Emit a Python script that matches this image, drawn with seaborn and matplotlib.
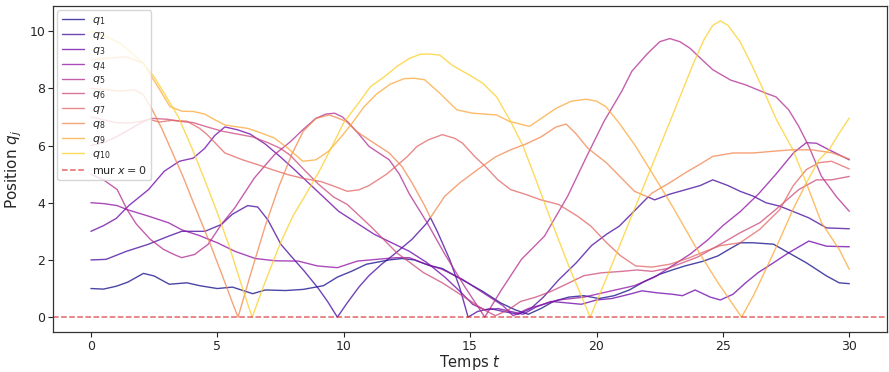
import matplotlib
matplotlib.use("Agg")
import matplotlib.pyplot as plt
import numpy as np
import pandas as pd
import seaborn as sns

# ---- data: (t, q_j) points of each trajectory ----
q1_pts = [(0,1.0),(0.5,0.98),(1.0,1.08),(1.45,1.22),(2.08,1.53),(2.5,1.44),(3.1,1.15),(3.8,1.2),(4.3,1.1),(5.0,1.0),(5.6,1.05),(6.4,0.82),(6.9,0.95),(7.7,0.93),(8.4,0.97),(9.2,1.1),(9.75,1.4),(10.3,1.6),(10.9,1.85),(11.8,2.0),(12.3,2.05),(12.8,2.0),(13.4,1.8),(13.9,1.7),(14.7,1.3),(15.5,0.9),(16.2,0.5),(16.8,0.25),(17.3,0.1),(17.8,0.3),(18.3,0.55),(18.9,0.7),(19.5,0.75),(20.1,0.65),(20.7,0.75),(21.3,0.95),(21.9,1.25),(22.5,1.5),(23.0,1.65),(23.5,1.79),(24.2,1.95),(24.8,2.14),(25.3,2.4),(25.7,2.6),(26.2,2.6),(27.0,2.55),(27.6,2.25),(28.3,1.9),(29.1,1.44),(29.6,1.2),(30,1.17)]
q2_pts = [(0,2.0),(0.6,2.02),(1.4,2.3),(2.28,2.55),(3.07,2.83),(3.59,3.0),(4.51,3.0),(5.16,3.24),(5.6,3.6),(6.2,3.9),(6.6,3.85),(7.0,3.4),(7.52,2.54),(8.0,2.05),(8.44,1.61),(9.0,1.0),(9.36,0.55),(9.75,0.0),(10.14,0.5),(10.6,1.05),(11.0,1.45),(11.5,1.85),(12.0,2.2),(12.7,2.72),(13.3,3.3),(13.43,3.48),(13.7,3.0),(14.2,2.0),(14.6,1.0),(14.92,0.0),(15.3,0.2),(15.8,0.3),(16.3,0.2),(16.9,0.1),(17.4,0.3),(17.9,0.7),(18.5,1.3),(19.2,1.9),(19.8,2.5),(20.4,2.9),(20.9,3.18),(21.55,3.76),(22.04,4.2),(22.3,4.1),(22.9,4.3),(23.5,4.45),(24.1,4.6),(24.6,4.8),(25.2,4.6),(25.68,4.4),(26.2,4.23),(26.7,4.0),(27.25,3.88),(27.9,3.65),(28.4,3.47),(29.1,3.12),(30,3.09)]
q3_pts = [(0,3.0),(0.5,3.2),(1.0,3.45),(1.5,3.9),(2.28,4.46),(2.9,5.1),(3.5,5.45),(4.05,5.56),(4.5,5.9),(4.9,6.35),(5.3,6.65),(5.8,6.55),(6.3,6.4),(6.9,6.05),(7.5,5.6),(8.0,5.2),(8.6,4.7),(9.2,4.2),(9.8,3.7),(10.5,3.3),(11.2,2.9),(11.9,2.6),(12.6,2.3),(13.3,1.9),(14.0,1.4),(14.6,0.9),(15.1,0.45),(15.6,0.25),(16.1,0.3),(16.6,0.2),(17.1,0.1),(17.6,0.35),(18.2,0.55),(18.8,0.5),(19.4,0.45),(20.0,0.6),(20.6,0.65),(21.3,0.8),(21.8,0.92),(22.4,0.85),(23.0,0.8),(23.4,0.75),(23.9,0.95),(24.5,0.7),(24.9,0.6),(25.4,0.8),(25.9,1.2),(26.4,1.56),(27.0,1.9),(27.6,2.25),(28.4,2.66),(29.1,2.48),(30,2.46)]
q4_pts = [(0,4.0),(0.5,3.97),(1.04,3.9),(1.43,3.76),(2.28,3.53),(3.07,3.3),(3.6,3.05),(4.3,2.85),(5.0,2.6),(5.7,2.3),(6.5,2.05),(7.3,1.97),(8.2,1.96),(8.96,1.79),(9.75,1.73),(10.54,1.96),(11.3,2.02),(12.1,2.08),(12.6,2.08),(13.1,1.9),(13.9,1.67),(14.7,1.32),(15.5,0.86),(16.3,0.4),(16.7,0.05),(17.3,0.3),(18.5,0.6),(19.5,0.7),(20.5,0.9),(21.5,1.1),(22.3,1.4),(23.0,1.8),(23.7,2.2),(24.4,2.7),(25.0,3.2),(25.7,3.7),(26.4,4.3),(27.1,5.0),(27.8,5.75),(28.3,6.1),(28.7,6.08),(29.2,5.85),(30,5.5)]
q5_pts = [(0,5.0),(0.5,4.8),(1.04,4.46),(1.43,3.76),(1.8,3.25),(2.35,2.72),(2.87,2.37),(3.26,2.2),(3.59,2.08),(4.1,2.19),(4.64,2.55),(5.16,3.24),(5.69,3.82),(6.47,4.87),(7.26,5.68),(7.9,6.14),(8.38,6.55),(8.9,6.95),(9.3,7.1),(9.64,7.13),(9.95,7.0),(10.2,6.79),(10.6,6.4),(11.0,5.97),(11.8,5.5),(12.2,5.0),(12.6,4.3),(13.3,3.3),(14.0,2.2),(14.8,1.05),(15.58,0.0),(16.2,0.9),(17.03,2.02),(17.94,2.83),(18.86,4.23),(19.6,5.6),(20.3,6.85),(21.0,7.9),(21.4,8.6),(22.0,9.2),(22.5,9.63),(22.9,9.74),(23.3,9.63),(23.7,9.4),(24.1,9.06),(24.6,8.65),(25.3,8.29),(25.9,8.12),(26.7,7.83),(27.1,7.7),(27.6,7.25),(28.0,6.67),(28.4,5.97),(28.9,4.92),(29.5,4.2),(30,3.7)]
q6_pts = [(0,6.0),(0.5,6.1),(1.0,6.3),(1.5,6.55),(2.0,6.8),(2.4,6.95),(3.0,6.92),(3.5,6.85),(4.05,6.8),(4.6,6.65),(5.2,6.5),(5.8,6.4),(6.4,6.3),(7.0,6.1),(7.5,5.9),(7.9,5.65),(8.38,5.2),(9.0,4.65),(9.6,4.2),(10.14,3.94),(11.06,3.18),(12.1,2.25),(13.15,1.56),(13.9,1.2),(14.9,0.63),(15.5,0.28),(16.0,0.05),(16.5,0.25),(17.0,0.55),(17.6,0.7),(18.2,0.9),(18.8,1.15),(19.5,1.45),(20.2,1.55),(21.0,1.6),(21.6,1.65),(22.2,1.6),(22.8,1.7),(23.4,1.9),(24.0,2.1),(24.6,2.4),(25.1,2.65),(25.68,2.95),(26.46,3.3),(27.25,3.88),(28.0,4.46),(28.7,4.8),(29.3,4.8),(30,4.92)]
q7_pts = [(0,7.0),(0.5,6.9),(1.0,6.8),(1.5,6.78),(2.0,6.85),(2.3,6.92),(2.7,6.82),(3.2,6.88),(3.8,6.85),(4.3,6.6),(4.6,6.38),(5.3,5.74),(6.0,5.5),(6.6,5.33),(7.2,5.15),(7.8,4.98),(8.4,4.85),(9.1,4.74),(9.7,4.55),(10.14,4.4),(10.6,4.45),(11.0,4.6),(11.7,5.0),(12.5,5.6),(12.9,5.97),(13.35,6.2),(13.9,6.38),(14.4,6.25),(14.7,6.08),(15.2,5.6),(15.6,5.27),(16.1,4.8),(16.6,4.46),(17.2,4.29),(17.8,4.1),(18.5,3.94),(19.25,3.53),(19.78,3.18),(20.4,2.6),(20.96,2.14),(21.55,1.79),(22.2,1.75),(22.9,1.85),(23.6,2.05),(24.3,2.3),(24.9,2.5),(25.68,2.6),(26.46,3.07),(27.25,3.76),(27.77,4.58),(28.3,5.16),(28.8,5.4),(29.3,5.45),(30,5.18)]
q8_pts = [(0,8.0),(0.6,7.95),(1.2,7.9),(1.7,7.95),(2.05,7.8),(2.4,7.3),(2.8,6.6),(3.2,5.8),(3.65,4.9),(4.1,3.9),(4.7,2.6),(5.2,1.45),(5.6,0.5),(5.82,0.0),(6.35,1.6),(6.9,3.2),(7.45,4.6),(7.95,5.7),(8.4,6.5),(8.9,6.95),(9.43,7.07),(9.8,6.95),(10.1,6.84),(10.5,6.5),(11.0,6.2),(11.8,5.74),(12.3,5.27),(12.7,4.7),(13.2,3.9),(13.43,3.48),(14.0,4.23),(14.6,4.7),(15.3,5.16),(16.0,5.6),(16.6,5.85),(17.2,6.05),(17.8,6.3),(18.4,6.65),(18.8,6.75),(19.2,6.4),(19.65,5.91),(20.4,5.39),(21.0,4.85),(21.5,4.4),(22.04,4.2),(22.2,4.34),(22.9,4.7),(23.5,5.04),(24.1,5.35),(24.6,5.62),(25.4,5.74),(26.2,5.74),(27.0,5.8),(27.7,5.85),(28.5,5.85),(29.3,5.75),(30,5.53)]
q9_pts = [(0,9.0),(0.6,9.05),(1.43,9.1),(2.08,8.87),(2.48,8.3),(3.13,7.36),(3.6,7.2),(4.05,7.19),(4.5,7.1),(4.9,6.9),(5.3,6.72),(5.8,6.65),(6.2,6.6),(6.7,6.45),(7.26,6.26),(7.8,5.9),(8.38,5.45),(8.9,5.5),(9.4,5.8),(9.9,6.3),(10.34,6.79),(10.8,7.35),(11.3,7.8),(11.85,8.15),(12.4,8.34),(12.8,8.35),(13.2,8.3),(13.8,7.83),(14.47,7.25),(15.1,7.13),(16.04,7.07),(16.57,6.84),(17.35,6.67),(17.9,7.0),(18.4,7.3),(19.0,7.55),(19.6,7.62),(20.0,7.55),(20.37,7.36),(20.9,6.78),(21.55,5.97),(22.2,5.04),(23.0,3.88),(23.9,2.49),(24.8,1.21),(25.74,0.0),(26.2,0.74),(26.7,1.67),(27.25,2.72),(27.77,3.76),(28.3,4.69),(28.9,3.3),(29.6,2.37),(30,1.67)]
q10_pts = [(0,10.0),(0.5,9.85),(1.17,9.57),(1.6,9.25),(2.08,8.87),(2.5,8.4),(2.94,7.77),(3.46,7.0),(4.0,5.9),(4.5,4.8),(5.0,3.65),(5.5,2.4),(6.0,1.0),(6.38,0.0),(6.9,1.25),(7.5,2.6),(8.0,3.55),(8.38,4.11),(9.0,5.05),(9.5,5.9),(10.0,6.8),(10.6,7.5),(11.06,8.06),(11.6,8.4),(12.1,8.76),(12.6,9.05),(13.03,9.19),(13.4,9.2),(13.8,9.16),(14.3,8.8),(14.96,8.47),(15.5,8.18),(16.04,7.71),(16.57,6.9),(17.1,5.97),(17.6,4.81),(18.14,3.53),(18.9,1.79),(19.75,0.0),(20.43,1.44),(20.96,2.6),(21.55,3.88),(22.15,5.2),(22.75,6.5),(23.3,7.7),(23.8,8.8),(24.25,9.7),(24.6,10.2),(24.9,10.36),(25.2,10.2),(25.68,9.63),(26.15,8.8),(26.6,7.94),(27.12,6.9),(27.77,5.85),(28.3,4.69),(28.8,5.5),(29.2,5.85),(29.6,6.43),(30,6.96)]

trajectories = [q1_pts, q2_pts, q3_pts, q4_pts, q5_pts, q6_pts, q7_pts, q8_pts, q9_pts, q10_pts]
labels = [f"$q_{{{j}}}$" for j in range(1, 11)]
x_ticks = [0, 5, 10, 15, 20, 25, 30]
y_ticks = [0, 2, 4, 6, 8, 10]
wall_label = "mur $x=0$"

frames = []
for lab, pts in zip(labels, trajectories):
    arr = np.array(pts, dtype=float)
    frames.append(pd.DataFrame({"t": arr[:, 0], "q": arr[:, 1], "particule": lab}))
df = pd.concat(frames, ignore_index=True)

sns.set_style("ticks")
plt.rcParams["font.family"] = ["DejaVu Sans"]

fig, ax = plt.subplots(figsize=(8.89, 3.72), dpi=100)
fig.subplots_adjust(left=0.0596, right=0.998, top=0.984, bottom=0.1075)

cmap = sns.color_palette("plasma", as_cmap=True)
palette = [cmap(v) for v in np.linspace(0, 0.9, 10)]
sns.lineplot(data=df, x="t", y="q", hue="particule", hue_order=labels, palette=palette,
             sort=False, estimator=None, alpha=0.75, linewidth=1.0, ax=ax)
ax.axhline(0, color="#d62728", linestyle="--", alpha=0.7, linewidth=1.1, label=wall_label)

ax.set_xlabel("Temps $t$", fontsize=10.5, labelpad=0.5)
ax.set_ylabel("Position $q_j$", fontsize=11, labelpad=4)
ax.set_xticks(x_ticks)
ax.set_yticks(y_ticks)
ax.tick_params(labelsize=9, length=3.5, width=0.8, pad=2.0)
ax.set_xlim(-1.5, 31.5)
ax.set_ylim(-0.52, 10.88)
for s in ax.spines.values():
    s.set_color("#333333")
    s.set_linewidth(0.9)
ax.legend(loc="upper left", fontsize=8, handlelength=2.0, handletextpad=0.7,
          labelspacing=0.26, borderpad=0.4, borderaxespad=0.4)
fig.savefig("out.png", dpi=100)
